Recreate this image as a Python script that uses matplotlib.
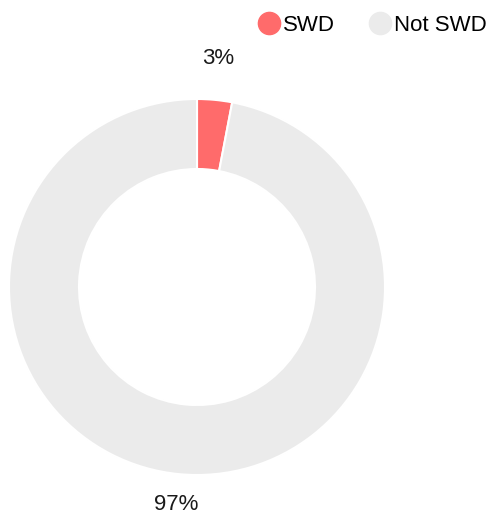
import matplotlib
matplotlib.use("Agg")
import matplotlib.pyplot as plt
from matplotlib.lines import Line2D

labels = ["SWD", "Not SWD"]
values = [3, 97]
colors = ["#FF6B6B", "#EBEBEB"]

plt.rcParams['font.family'] = ['Liberation Sans', 'DejaVu Sans']

W, H = 489, 516
fig = plt.figure(figsize=(W / 100, H / 100), dpi=100)
cx, cy, R = 197, 287, 188
ax = fig.add_axes([(cx - R) / W, (H - cy - R) / H, 2 * R / W, 2 * R / H])

wedges, texts, autotexts = ax.pie(
    values, colors=colors, startangle=90, counterclock=False, radius=1,
    wedgeprops=dict(width=1 - 118 / 188, edgecolor='white', linewidth=1.5),
    autopct='%d%%', pctdistance=1.19, textprops=dict(fontsize=16, color='#1a1a1a'))
for t in autotexts:
    t.set_va('baseline')
ax.set_xlim(-1, 1)
ax.set_ylim(-1, 1)
ax.set_aspect('equal')
ax.axis('off')

handles = [Line2D([0], [0], marker='o', linestyle='none', markersize=16,
                  markerfacecolor=c, markeredgecolor=c) for c in colors]
fig.legend(handles, labels, loc='upper right', bbox_to_anchor=(1.0, 1.0 - 13 / H),
           ncol=2, frameon=False, fontsize=16, handletextpad=0.15,
           columnspacing=1.5, borderaxespad=0.0, borderpad=0.1, handlelength=1.0)

fig.savefig("out.png", dpi=100)
